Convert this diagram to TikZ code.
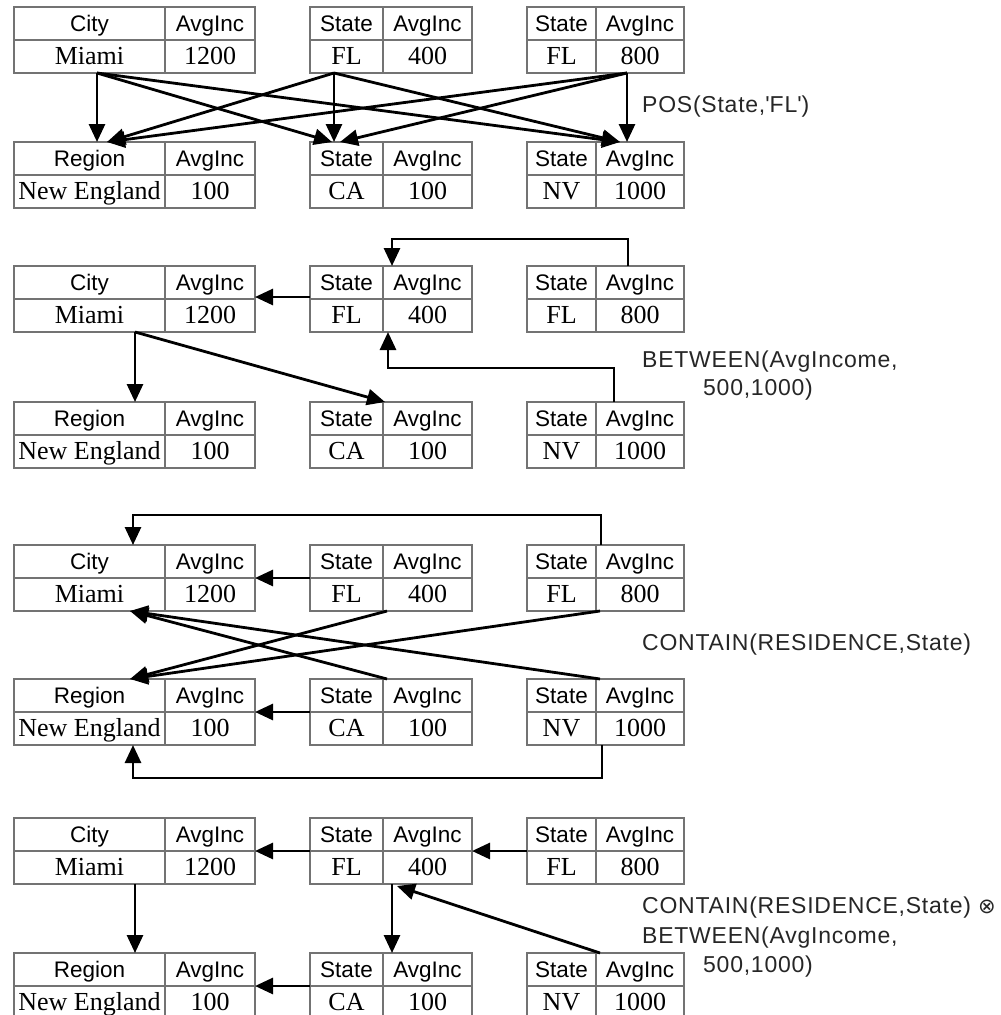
\documentclass[tikz,border=0pt]{standalone}
\usepackage{fontspec}
\setmainfont{Liberation Serif}
\setsansfont{Liberation Sans}
\newfontfamily\lblfont[LetterSpace=3.3]{Liberation Sans}
\newfontfamily\symfont{DejaVu Sans}
\usetikzlibrary{arrows.meta,calc}
\tikzset{
  tblframe/.style={draw=black!55, line width=1.3pt, inner sep=0pt, outer sep=0pt, anchor=north west, minimum height=66pt},
  tblline/.style={draw=black!55, line width=1.3pt},
  hdr/.style={font=\sffamily\fontsize{22.5}{26}\selectfont, inner sep=0pt, anchor=base},
  val/.style={font=\fontsize{26}{30}\selectfont, inner sep=0pt, anchor=base},
  lbl/.style={font=\lblfont\fontsize{23}{28}\selectfont, anchor=west, inner sep=0pt, text=black!85},
  arr/.style={line width=2.8pt, line join=miter, -{Triangle[length=18pt,width=16pt]}},
}
% name, x, y, w1, w2, header1, header2, value1, value2
\newcommand\dbtable[9]{%
  \node[tblframe, minimum width={(#4+#5)*1pt}] (#1) at (#2,#3) {};
  \draw[tblline] ($(#1.north west)+(#4,0)$) -- ($(#1.south west)+(#4,0)$);
  \draw[tblline] (#1.west) -- (#1.east);
  \node[hdr] (#1-h1) at ($(#1.north west)+({#4/2},24.5)$) {#6};
  \node[hdr] (#1-h2) at ($(#1.north west)+({#4+#5/2},24.5)$) {#7};
  \node[val] (#1-v1) at ($(#1.north west)+({#4/2},57)$) {#8};
  \node[val] (#1-v2) at ($(#1.north west)+({#4+#5/2},57)$) {#9};
}
\begin{document}
\begin{tikzpicture}[x=1pt,y=-1pt]
\useasboundingbox (0,0) rectangle (1001,1015);
% ---------- Panel 1 ----------
\dbtable{p1a}{14}{7}{151}{90}{City}{AvgInc}{Miami}{1200}
\dbtable{p1b}{310}{7}{73}{89}{State}{AvgInc}{FL}{400}
\dbtable{p1c}{527}{7}{69}{88}{State}{AvgInc}{FL}{800}
\dbtable{p1d}{14}{142}{151}{90}{Region}{AvgInc}{New England}{100}
\dbtable{p1e}{310}{142}{73}{89}{State}{AvgInc}{CA}{100}
\dbtable{p1f}{527}{142}{69}{88}{State}{AvgInc}{NV}{1000}
\draw[arr] ($(p1a.south west)+(83,0)$) -- ($(p1d.north west)+(83,0)$);
\draw[arr] ($(p1a.south west)+(83,0)$) -- ($(p1e.north west)+(22,0)$);
\draw[arr] ($(p1a.south west)+(83,0)$) -- ($(p1f.north west)+(93,0)$);
\draw[arr] ($(p1b.south west)+(24,0)$) -- ($(p1d.north west)+(93,0)$);
\draw[arr] ($(p1b.south west)+(24,0)$) -- ($(p1e.north west)+(24,0)$);
\draw[arr] ($(p1b.south west)+(24,0)$) -- ($(p1f.north west)+(93,0)$);
\draw[arr] ($(p1c.south west)+(100,0)$) -- ($(p1d.north west)+(93,0)$);
\draw[arr] ($(p1c.south west)+(100,0)$) -- ($(p1e.north west)+(30,0)$);
\draw[arr] ($(p1c.south west)+(100,0)$) -- ($(p1f.north west)+(100,0)$);
\node[lbl] (l1) at (642,107) {POS(State,\textquotesingle FL\textquotesingle)};
% ---------- Panel 2 ----------
\dbtable{p2a}{14}{266}{151}{90}{City}{AvgInc}{Miami}{1200}
\dbtable{p2b}{310}{266}{73}{89}{State}{AvgInc}{FL}{400}
\dbtable{p2c}{527}{266}{69}{88}{State}{AvgInc}{FL}{800}
\dbtable{p2d}{14}{402}{151}{90}{Region}{AvgInc}{New England}{100}
\dbtable{p2e}{310}{402}{73}{89}{State}{AvgInc}{CA}{100}
\dbtable{p2f}{527}{402}{69}{88}{State}{AvgInc}{NV}{1000}
\draw[arr] ($(p2b.west)+(0,-2)$) -- ($(p2a.east)+(0,-2)$);
\draw[arr] ($(p2a.south west)+(121,0)$) -- ($(p2d.north west)+(121,0)$);
\draw[arr] ($(p2a.south west)+(121,0)$) -- ($(p2e.north west)+(75,0)$);
\draw[arr] ($(p2c.north west)+(101,0)$) |- ($(p2b.north west)+(82,-27)$) -- ($(p2b.north west)+(82,0)$);
\draw[arr] ($(p2f.north west)+(87,0)$) |- ($(p2b.south west)+(78,36)$) -- ($(p2b.south west)+(78,0)$);
\node[lbl] (l2a) at (642,362) {BETWEEN(AvgIncome,};
\node[lbl] (l2b) at (703,390) {500,1000)};
% ---------- Panel 3 ----------
\dbtable{p3a}{14}{545}{151}{90}{City}{AvgInc}{Miami}{1200}
\dbtable{p3b}{310}{545}{73}{89}{State}{AvgInc}{FL}{400}
\dbtable{p3c}{527}{545}{69}{88}{State}{AvgInc}{FL}{800}
\dbtable{p3d}{14}{679}{151}{90}{Region}{AvgInc}{New England}{100}
\dbtable{p3e}{310}{679}{73}{89}{State}{AvgInc}{CA}{100}
\dbtable{p3f}{527}{679}{69}{88}{State}{AvgInc}{NV}{1000}
\draw[arr] ($(p3c.north west)+(74,0)$) |- ($(p3a.north west)+(119,-30)$) -- ($(p3a.north west)+(119,0)$);
\draw[arr] (p3b.west) -- (p3a.east);
\draw[arr] (p3e.west) -- (p3d.east);
\draw[arr] ($(p3b.south west)+(77,0)$) -- ($(p3d.north west)+(116,0)$);
\draw[arr] ($(p3c.south west)+(73,0)$) -- ($(p3d.north west)+(116,0)$);
\draw[arr] ($(p3e.north west)+(77,0)$) -- ($(p3a.south west)+(116,0)$);
\draw[arr] ($(p3f.north west)+(73,0)$) -- ($(p3a.south west)+(116,0)$);
\draw[arr] ($(p3f.south west)+(75,0)$) |- ($(p3d.south west)+(119,33)$) -- ($(p3d.south west)+(119,0)$);
\node[lbl] (l3) at (642,645) {CONTAIN(RESIDENCE,State)};
% ---------- Panel 4 ----------
\dbtable{p4a}{14}{818}{151}{90}{City}{AvgInc}{Miami}{1200}
\dbtable{p4b}{310}{818}{73}{89}{State}{AvgInc}{FL}{400}
\dbtable{p4c}{527}{818}{69}{88}{State}{AvgInc}{FL}{800}
\dbtable{p4d}{14}{953}{151}{90}{Region}{AvgInc}{New England}{100}
\dbtable{p4e}{310}{953}{73}{89}{State}{AvgInc}{CA}{100}
\dbtable{p4f}{527}{953}{69}{88}{State}{AvgInc}{NV}{1000}
\draw[arr] (p4b.west) -- (p4a.east);
\draw[arr] (p4c.west) -- (p4b.east);
\draw[arr] ($(p4a.south west)+(121,0)$) -- ($(p4d.north west)+(121,0)$);
\draw[arr] ($(p4b.south west)+(82,0)$) -- ($(p4e.north west)+(82,0)$);
\draw[arr] (p4e.west) -- (p4d.east);
\draw[arr] ($(p4f.north west)+(73,0)$) -- ($(p4b.south west)+(87,2)$);
\node[lbl] (l4a) at (642,908) {CONTAIN(RESIDENCE,State) {\symfont\fontsize{21}{24}\selectfont ⊗}};
\node[lbl] (l4b) at (642,938) {BETWEEN(AvgIncome,};
\node[lbl] (l4c) at (703,967) {500,1000)};
\end{tikzpicture}
\end{document}
